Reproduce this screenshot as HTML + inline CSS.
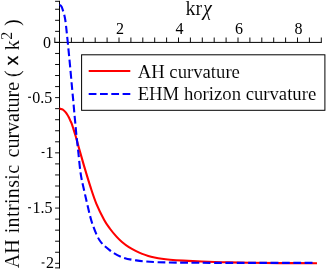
<!DOCTYPE html>
<html><head><meta charset="utf-8"><title>plot</title>
<style>
html,body{margin:0;padding:0;background:#fff;}
body{width:327px;height:270px;overflow:hidden;font-family:"Liberation Serif",serif;}
svg{display:block;will-change:transform;}
</style></head><body>
<svg width="327" height="270" viewBox="0 0 327 270">
<rect width="327" height="270" fill="#fff"/>
<g stroke="#000" stroke-width="1.0" fill="none">
<line x1="59.50" y1="0.8" x2="59.50" y2="268.4"/>
<line x1="54.3" y1="42.40" x2="321.8" y2="42.40"/>
</g>
<g stroke="#000" stroke-width="0.95" fill="none">
<line x1="71.40" y1="42.40" x2="71.40" y2="37.50"/>
<line x1="83.30" y1="42.40" x2="83.30" y2="37.50"/>
<line x1="95.20" y1="42.40" x2="95.20" y2="37.50"/>
<line x1="107.10" y1="42.40" x2="107.10" y2="37.50"/>
<line x1="119.00" y1="42.40" x2="119.00" y2="37.50"/>
<line x1="130.90" y1="42.40" x2="130.90" y2="37.50"/>
<line x1="142.80" y1="42.40" x2="142.80" y2="37.50"/>
<line x1="154.70" y1="42.40" x2="154.70" y2="37.50"/>
<line x1="166.60" y1="42.40" x2="166.60" y2="37.50"/>
<line x1="178.50" y1="42.40" x2="178.50" y2="37.50"/>
<line x1="190.40" y1="42.40" x2="190.40" y2="37.50"/>
<line x1="202.30" y1="42.40" x2="202.30" y2="37.50"/>
<line x1="214.20" y1="42.40" x2="214.20" y2="37.50"/>
<line x1="226.10" y1="42.40" x2="226.10" y2="37.50"/>
<line x1="238.00" y1="42.40" x2="238.00" y2="37.50"/>
<line x1="249.90" y1="42.40" x2="249.90" y2="37.50"/>
<line x1="261.80" y1="42.40" x2="261.80" y2="37.50"/>
<line x1="273.70" y1="42.40" x2="273.70" y2="37.50"/>
<line x1="285.60" y1="42.40" x2="285.60" y2="37.50"/>
<line x1="297.50" y1="42.40" x2="297.50" y2="37.50"/>
<line x1="309.40" y1="42.40" x2="309.40" y2="37.50"/>
<line x1="321.30" y1="42.40" x2="321.30" y2="37.50"/>
<line x1="54.8" y1="42.40" x2="54.8" y2="37.50"/>
<line x1="59.50" y1="9.26" x2="55.10" y2="9.26"/>
<line x1="59.50" y1="20.31" x2="55.10" y2="20.31"/>
<line x1="59.50" y1="31.35" x2="55.10" y2="31.35"/>
<line x1="59.50" y1="42.40" x2="55.10" y2="42.40"/>
<line x1="59.50" y1="53.45" x2="55.10" y2="53.45"/>
<line x1="59.50" y1="64.49" x2="55.10" y2="64.49"/>
<line x1="59.50" y1="75.53" x2="55.10" y2="75.53"/>
<line x1="59.50" y1="86.58" x2="55.10" y2="86.58"/>
<line x1="59.50" y1="97.62" x2="55.10" y2="97.62"/>
<line x1="59.50" y1="108.67" x2="55.10" y2="108.67"/>
<line x1="59.50" y1="119.72" x2="55.10" y2="119.72"/>
<line x1="59.50" y1="130.76" x2="55.10" y2="130.76"/>
<line x1="59.50" y1="141.81" x2="55.10" y2="141.81"/>
<line x1="59.50" y1="152.85" x2="55.10" y2="152.85"/>
<line x1="59.50" y1="163.90" x2="55.10" y2="163.90"/>
<line x1="59.50" y1="174.94" x2="55.10" y2="174.94"/>
<line x1="59.50" y1="185.99" x2="55.10" y2="185.99"/>
<line x1="59.50" y1="197.03" x2="55.10" y2="197.03"/>
<line x1="59.50" y1="208.08" x2="55.10" y2="208.08"/>
<line x1="59.50" y1="219.12" x2="55.10" y2="219.12"/>
<line x1="59.50" y1="230.17" x2="55.10" y2="230.17"/>
<line x1="59.50" y1="241.21" x2="55.10" y2="241.21"/>
<line x1="59.50" y1="252.26" x2="55.10" y2="252.26"/>
<line x1="59.50" y1="263.30" x2="55.10" y2="263.30"/>
<line x1="59.50" y1="1.3" x2="55.10" y2="1.3"/>
<line x1="59.50" y1="267.9" x2="55.10" y2="267.9"/>
</g>
<path d="M59.50,108.60 C60.33,108.60 61.32,109.03 62.00,109.30 C62.68,109.57 63.02,109.73 63.60,110.20 C64.18,110.67 64.90,111.38 65.50,112.10 C66.10,112.82 66.65,113.63 67.20,114.50 C67.75,115.37 68.28,116.28 68.80,117.30 C69.32,118.32 69.83,119.58 70.30,120.60 C70.77,121.62 71.10,122.08 71.60,123.40 C72.10,124.72 72.62,126.35 73.30,128.50 C73.98,130.65 74.92,133.62 75.70,136.30 C76.48,138.98 77.18,141.68 78.00,144.60 C78.82,147.52 79.53,150.05 80.60,153.80 C81.67,157.55 82.77,161.62 84.40,167.10 C86.03,172.58 88.40,180.58 90.40,186.70 C92.40,192.82 94.10,198.27 96.40,203.80 C98.70,209.33 101.97,215.78 104.20,219.90 C106.43,224.02 107.75,225.72 109.80,228.50 C111.85,231.28 114.47,234.35 116.50,236.60 C118.53,238.85 119.93,240.23 122.00,242.00 C124.07,243.77 126.55,245.68 128.90,247.20 C131.25,248.72 133.88,249.98 136.10,251.10 C138.32,252.22 140.17,253.08 142.20,253.90 C144.23,254.72 146.25,255.40 148.30,256.00 C150.35,256.60 152.25,257.03 154.50,257.50 C156.75,257.97 159.22,258.43 161.80,258.80 C164.38,259.17 166.42,259.40 170.00,259.70 C173.58,260.00 178.02,260.30 183.30,260.60 C188.58,260.90 194.75,261.22 201.70,261.50 C208.65,261.78 216.95,262.08 225.00,262.30 C233.05,262.52 240.83,262.67 250.00,262.80 C259.17,262.93 268.83,263.03 280.00,263.10 C291.17,263.17 310.83,263.18 317.00,263.20" stroke="#ff0000" stroke-width="2.1" fill="none" stroke-linecap="butt" stroke-linejoin="round"/>
<path d="M59.50,5.00 C60.17,5.00 60.87,5.50 61.50,6.60 C62.13,7.70 62.68,9.45 63.30,11.60 C63.92,13.75 64.58,15.60 65.20,19.50 C65.82,23.40 66.28,28.25 67.00,35.00 C67.72,41.75 68.62,50.83 69.50,60.00 C70.38,69.17 71.62,83.17 72.25,90.00 C72.88,96.83 72.97,97.33 73.30,101.00 C73.63,104.67 73.92,108.33 74.25,112.00 C74.58,115.67 74.96,119.33 75.30,123.00 C75.64,126.67 75.80,129.17 76.30,134.00 C76.80,138.83 77.55,145.27 78.30,152.00 C79.05,158.73 79.78,167.80 80.80,174.40 C81.82,181.00 83.23,186.27 84.40,191.60 C85.57,196.93 86.50,201.12 87.80,206.40 C89.10,211.68 90.27,217.70 92.20,223.30 C94.13,228.90 96.55,235.57 99.40,240.00 C102.25,244.43 105.60,247.07 109.30,249.90 C113.00,252.73 117.12,255.25 121.60,257.00 C126.08,258.75 130.10,259.53 136.20,260.40 C142.30,261.27 147.57,261.80 158.20,262.20 C168.83,262.60 183.03,262.68 200.00,262.80 C216.97,262.92 240.90,262.88 260.00,262.90 C279.10,262.92 305.50,262.90 314.60,262.90" stroke="#0000ff" stroke-width="2.1" fill="none" stroke-dasharray="7.75 3.55" stroke-linejoin="round"/>
<rect x="81.6" y="54.8" width="243.3" height="55.5" fill="#fff" stroke="#000" stroke-width="1.0"/>
<line x1="88.7" y1="71" x2="130.3" y2="71" stroke="#ff0000" stroke-width="2.1"/>
<line x1="88.7" y1="94" x2="130.3" y2="94" stroke="#0000ff" stroke-width="2.1" stroke-dasharray="7.75 3.55"/>
<g font-family="Liberation Serif, serif" fill="#000" stroke="#fff" stroke-width="0.08">
<text x="137.7" y="77.9" font-size="18.7">AH curvature</text>
<text x="137.7" y="99.6" font-size="18.7">EHM horizon curvature</text>
<text x="120.00" y="33.7" font-size="16" text-anchor="middle" stroke="none">2</text>
<text x="179.50" y="33.7" font-size="16" text-anchor="middle" stroke="none">4</text>
<text x="239.00" y="33.7" font-size="16" text-anchor="middle" stroke="none">6</text>
<text x="298.50" y="33.7" font-size="16" text-anchor="middle" stroke="none">8</text>
<text x="51.00" y="47.50" font-size="16" text-anchor="end" stroke="none">0</text>
<text x="52.20" y="102.72" font-size="16" text-anchor="end" stroke="none">0.5</text>
<rect x="28.10" y="96.72" width="2.9" height="1.1" fill="#000" stroke="none"/>
<text x="53.50" y="157.95" font-size="16" text-anchor="end" stroke="none">1</text>
<rect x="41.60" y="151.95" width="2.9" height="1.1" fill="#000" stroke="none"/>
<text x="52.50" y="213.18" font-size="16" text-anchor="end" stroke="none">1.5</text>
<rect x="28.10" y="207.18" width="2.9" height="1.1" fill="#000" stroke="none"/>
<text x="54.10" y="268.40" font-size="16" text-anchor="end" stroke="none">2</text>
<rect x="41.60" y="262.40" width="2.9" height="1.1" fill="#000" stroke="none"/>
<text x="185.6" y="15.4" font-size="20">kr<tspan font-style="italic" dx="0.8">χ</tspan></text>
<text transform="translate(18.80,268.20) rotate(-90)" font-size="20" >AH</text>
<text transform="translate(18.80,233.30) rotate(-90)" font-size="20" letter-spacing="0.36">intrinsic</text>
<text transform="translate(18.80,157.50) rotate(-90)" font-size="20" >curvature</text>
<text transform="translate(18.80,77.00) rotate(-90)" font-size="20" >(</text>
<text transform="translate(18.00,65.3) rotate(-90)" font-size="19" font-family="Liberation Sans, sans-serif" stroke="#000" stroke-width="0.3">x</text>
<text transform="translate(18.80,50.20) rotate(-90)" font-size="20" >k</text>
<text transform="translate(12.00,39.7) rotate(-90)" font-size="16">2</text>
<text transform="translate(18.80,26.00) rotate(-90)" font-size="20" >)</text>
</g>
</svg>
</body></html>
